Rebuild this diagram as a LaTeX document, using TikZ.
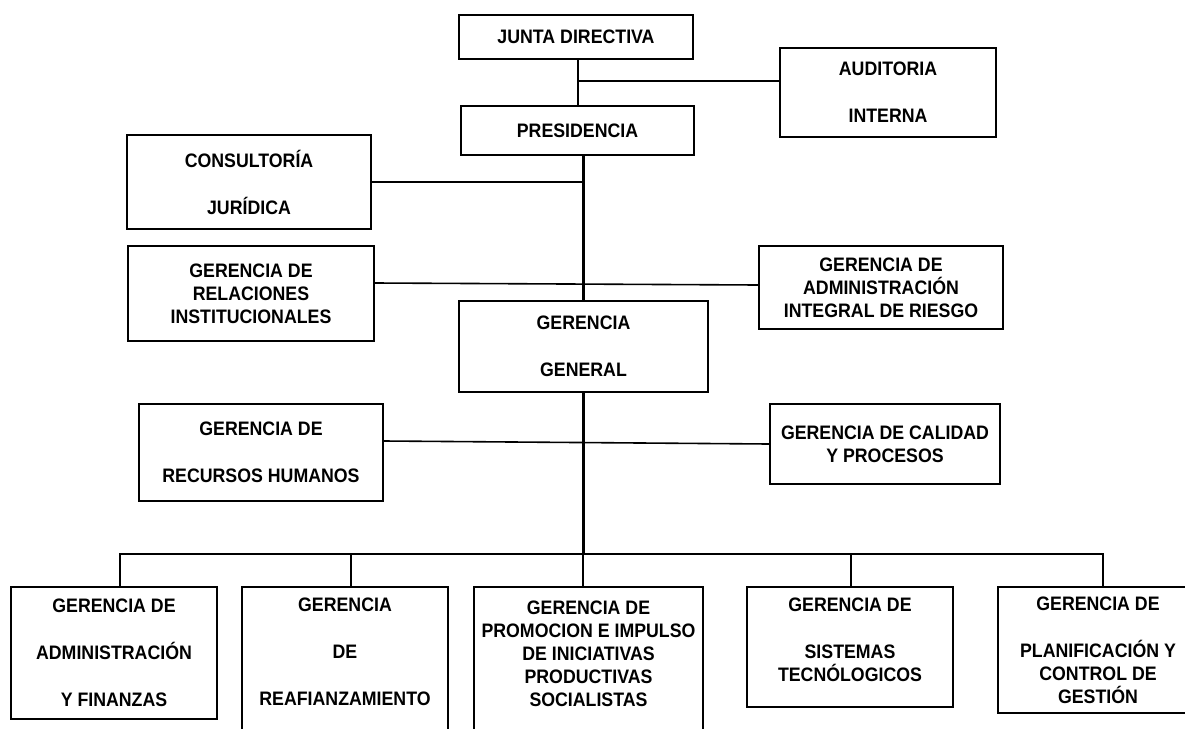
\documentclass[tikz,border=0pt]{standalone}
\usepackage{fontspec}
\setmainfont{Liberation Sans}[FakeStretch=0.91]
\usetikzlibrary{positioning}

\begin{document}
\begin{tikzpicture}[
        x=1pt, y=-1pt,
        box/.style={rectangle, draw, line width=2pt, align=center, inner sep=0pt, font=\fontsize{19.5}{23}\selectfont\bfseries},
        link/.style={line width=2.2pt},
        thinlink/.style={line width=1.6pt},
        buslink/.style={line width=2.4pt}
    ]
    \useasboundingbox (0,0) rectangle (1185,728);
%
    % Nodes
    \node[box, minimum width=234pt, minimum height=44pt] (junta) at (576,37) {JUNTA DIRECTIVA};
    \node[box, minimum width=216pt, minimum height=89pt] (audit) at (888,92.5) {AUDITORIA\\[24pt]INTERNA};
    \node[box, minimum width=233pt, minimum height=49pt] (pres) at (577.5,130.5) {PRESIDENCIA};
    \node[box, minimum width=244pt, minimum height=94pt] (consult) at (249,182) {CONSULTORÍA\\[24pt]JURÍDICA};
    \node[box, minimum width=246pt, minimum height=95pt] (relinst) at (251,293.5) {GERENCIA DE\\RELACIONES\\INSTITUCIONALES};
    \node[box, minimum width=244pt, minimum height=83pt] (riesgo) at (881,287.5) {GERENCIA DE\\ADMINISTRACIÓN\\INTEGRAL DE RIESGO};
    \node[box, minimum width=249pt, minimum height=91pt] (gg) at (583.5,346.5) {GERENCIA\\[24pt]GENERAL};
    \node[box, minimum width=244pt, minimum height=97pt] (rrhh) at (261,452.5) {GERENCIA DE\\[24pt]RECURSOS HUMANOS};
    \node[box, minimum width=230pt, minimum height=80pt] (calidad) at (885,444) {GERENCIA DE CALIDAD\\Y PROCESOS};
    \coordinate[below=161pt of gg.south] (bus);
%
    % Bottom row
    \node[box, anchor=north, minimum width=206pt, minimum height=132pt] (adminfin) at (114,586) {GERENCIA DE\\[24pt]ADMINISTRACIÓN\\[24pt]Y FINANZAS};
    \node[box, anchor=north, minimum width=206pt, inner ysep=11pt, text depth=22pt] (reaf) at (345,586) {GERENCIA\\[24pt]DE\\[24pt]REAFIANZAMIENTO};
    \node[box, anchor=north, minimum width=229pt, inner ysep=14pt, text depth=19pt] (promo) at (588.5,586) {GERENCIA DE\\PROMOCION E IMPULSO\\DE INICIATIVAS\\PRODUCTIVAS\\SOCIALISTAS};
    \node[box, anchor=north, minimum width=206pt, inner ysep=11pt, text depth=14pt] (sistemas) at (850,586) {GERENCIA DE\\[24pt]SISTEMAS\\TECNÓLOGICOS};
    \node[box, anchor=north, minimum width=200pt, minimum height=126pt] (planif) at (1098,586) {GERENCIA DE\\[24pt]PLANIFICACIÓN Y\\CONTROL DE\\GESTIÓN};
%
    % Lines
    \coordinate (jn) at (578,81);
    \draw[link] (junta.south -| jn) -- (pres.north -| jn);
    \draw[link] (jn) -- (jn -| audit.west);
    \draw[link] (gg.north |- pres.south) -- (gg.north);
    \draw[link] (consult.east) -- (consult.east -| gg.north);
    \draw[thinlink] ([yshift=10.5pt]relinst.east) -- ([yshift=2.5pt]riesgo.west);
    \draw[thinlink] ([yshift=11.5pt]rrhh.east) -- (calidad.west);
    \draw[link] (gg.south) -- (bus);
    \foreach \unit/\dx in {adminfin/6, reaf/6, promo/-5.5, sistemas/1, planif/5}
        \draw[buslink] ([xshift=\dx pt]\unit.north) |- (bus);
%
\end{tikzpicture}
\end{document}
